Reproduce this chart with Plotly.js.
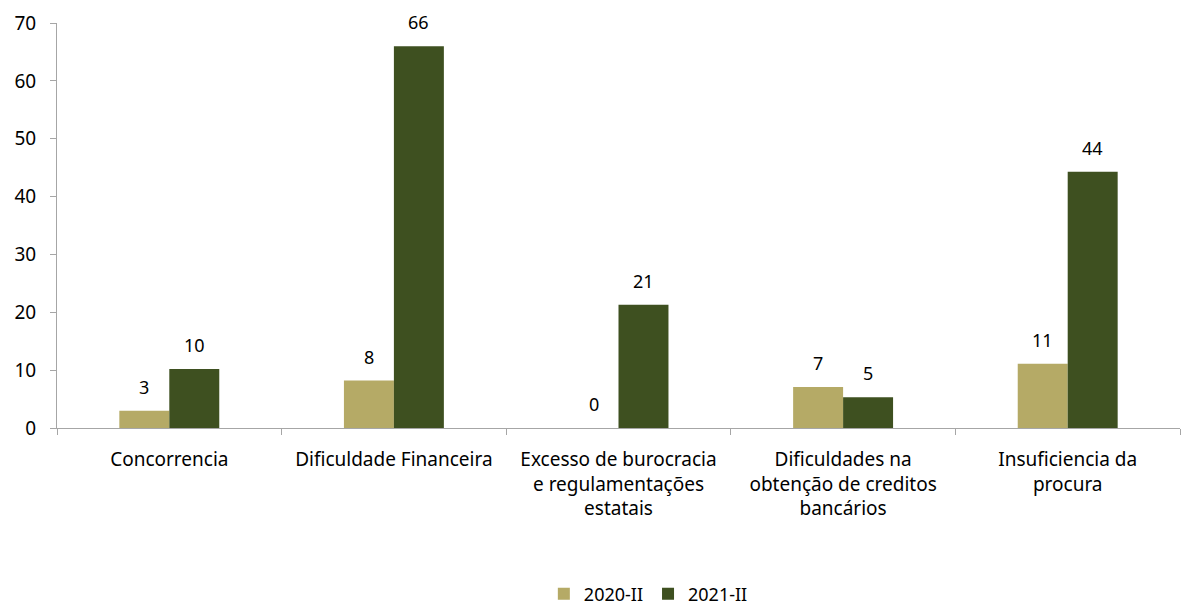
<!DOCTYPE html>
<html>
<head>
<meta charset="utf-8">
<script src="https://cdn.plot.ly/plotly-3.0.1.min.js"></script>
<style>html,body{margin:0;padding:0;background:#fff;}#chart{width:1194px;height:605px;}</style>
</head>
<body>
<div id="chart"></div>
<script>
const categories = [
  "Concorrencia",
  "Dificuldade Financeira",
  "Excesso de burocracia<br>e regulamentações<br>estatais",
  "Dificuldades na<br>obtenção de creditos<br>bancários",
  "Insuficiencia da<br>procura"
];
const series2020 = [3.0, 8.2, 0, 7.1, 11.1];
const series2021 = [10.2, 66.0, 21.3, 5.3, 44.3];
const seriesNames = ["2020-II", "2021-II"];
const yTicks = [0, 10, 20, 30, 40, 50, 60, 70];

const font = "Noto Sans, Liberation Sans, Arial, sans-serif";
const colors = ["#B5AA66", "#3E5020"];

const traces = [series2020, series2021].map((vals, i) => ({
  type: "bar",
  name: seriesNames[i],
  x: categories,
  y: vals,
  marker: {color: colors[i], line: {width: 0}},
  hoverinfo: "none"
}));

const annotations = [];
[series2020, series2021].forEach((vals, i) => {
  vals.forEach((v, j) => {
    annotations.push({
      x: categories[j], y: v, xref: "x", yref: "y",
      text: String(Math.round(v)),
      showarrow: false,
      xshift: i === 0 ? -25 : 25,
      yshift: 24,
      font: {family: font, size: 18, color: "#000"}
    });
  });
});

const layout = {
  width: 1194, height: 605,
  margin: {l: 57, r: 14, t: 23, b: 177, autoexpand: false},
  paper_bgcolor: "#fff", plot_bgcolor: "#fff",
  barmode: "group", bargap: 0.555, bargroupgap: 0,
  showlegend: true,
  legend: {orientation: "h", x: 0.543, xanchor: "center", xref: "container",
           y: 0.018, yanchor: "middle", yref: "container",
           font: {family: font, size: 18, color: "#000"}, itemwidth: 30, traceorder: "normal"},
  xaxis: {
    showgrid: false, showline: true, linecolor: "#A6A6A6", linewidth: 1,
    ticks: "outside", tickson: "boundaries", ticklen: 6, tickcolor: "#A6A6A6",
    ticklabelstandoff: 14,
    tickfont: {family: font, size: 19, color: "#000"}, automargin: false
  },
  yaxis: {
    range: [0, 70], tickvals: yTicks, showgrid: false, zeroline: false,
    showline: true, linecolor: "#A6A6A6", linewidth: 1,
    ticks: "outside", ticklen: 6, tickcolor: "#A6A6A6",
    ticklabelstandoff: 10,
    tickfont: {family: font, size: 19, color: "#000"}, automargin: false
  },
  annotations: annotations
};

Plotly.newPlot("chart", traces, layout, {displayModeBar: false, staticPlot: true});
</script>
</body>
</html>
